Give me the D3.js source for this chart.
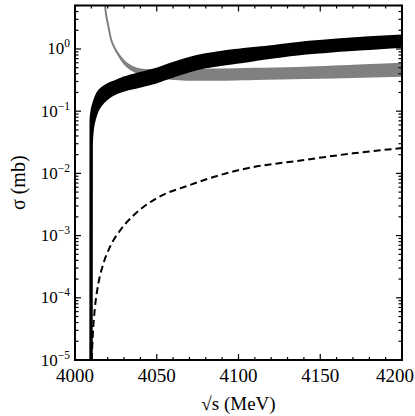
<!DOCTYPE html>
<html>
<head>
<meta charset="utf-8">
<script src="https://cdn.jsdelivr.net/npm/d3@7"></script>
<style>
body { margin: 0; background: #fff; }
text { font-family: "Liberation Serif", "DejaVu Serif", serif; fill: #000; }
</style>
</head>
<body>
<svg id="chart" width="415" height="416"></svg>
<script>

// black band (upper / lower edge), sigma in mb
var blackE     = [4009.8, 4009.9, 4010.5, 4011.5, 4013, 4015, 4017, 4020, 4025, 4030, 4040, 4050, 4060, 4070, 4080, 4090, 4100, 4120, 4140, 4160, 4180, 4200]
var blackUpper = [1e-5, 0.07, 0.10, 0.13, 0.17, 0.21, 0.235, 0.265, 0.30, 0.34, 0.40, 0.47, 0.58, 0.70, 0.80, 0.88, 0.95, 1.08, 1.25, 1.38, 1.50, 1.60]
var blackLower = [1e-5, 0.03, 0.05, 0.07, 0.095, 0.12, 0.14, 0.165, 0.198, 0.22, 0.255, 0.30, 0.37, 0.45, 0.52, 0.57, 0.62, 0.74, 0.86, 0.95, 1.03, 1.11]

// grey band
var greyE     = [4018.3, 4019, 4020.4, 4022, 4023.4, 4026, 4028.6, 4031, 4034.7, 4040, 4045, 4050, 4060, 4070, 4090, 4110, 4140, 4170, 4200]
var greyUpper = [5.2, 3.6, 2.33, 1.45, 1.15, 0.87, 0.70, 0.60, 0.52, 0.47, 0.46, 0.46, 0.46, 0.46, 0.47, 0.48, 0.50, 0.54, 0.58]
var greyLower = [5.2, 3.6, 2.33, 1.45, 1.15, 0.85, 0.66, 0.55, 0.46, 0.40, 0.37, 0.35, 0.33, 0.32, 0.32, 0.33, 0.34, 0.355, 0.37]

// dashed curve
var dashE = [4010.2, 4010.8, 4012.2, 4014.3, 4017.3, 4021.4, 4027.5, 4035.7, 4050, 4070.3, 4079.5, 4100.9, 4140.7, 4170, 4200]
var dashV = [1e-5, 2.3e-5, 7e-5, 1.7e-4, 3.5e-4, 6.6e-4, 1.2e-3, 2.1e-3, 4.0e-3, 6.5e-3, 7.9e-3, 1.14e-2, 1.65e-2, 2.1e-2, 2.55e-2]

var xTicks = [4000, 4050, 4100, 4150, 4200]
var yDecades = [0, -1, -2, -3, -4, -5]

var svg = d3.select("#chart")
var W = 415

//plot box (window.top is reserved, so own names)
var pLeft = 75, pRight = 402, pTop = 5.5, pBottom = 360

var x = d3.scaleLinear().domain([4000, 4200]).range([pLeft, pRight])
var y = d3.scaleLog().domain([1e-5, 5]).range([pBottom, pTop])

svg.append("clipPath").attr("id", "plotClip")
    .append("rect")
    .attr("x", pLeft).attr("y", pTop)
    .attr("width", pRight - pLeft).attr("height", pBottom - pTop)

var plot = svg.append("g").attr("clip-path", "url(#plotClip)")

//build band rows from the arrays
function bandRows(E, lo, hi) {
    return E.map(function(e, i) { return {e: e, lo: lo[i], hi: hi[i]} })
}

var band = d3.area()
    .x(function(d) { return x(d.e) })
    .y0(function(d) { return y(d.lo) })
    .y1(function(d) { return y(d.hi) })
    .curve(d3.curveMonotoneX)

// grey first, black sits on top of it
plot.append("path")
    .datum(bandRows(greyE, greyLower, greyUpper))
    .attr("d", band)
    .attr("fill", "#808080")
    .attr("stroke", "#808080")
    .attr("stroke-width", 2)
    .attr("stroke-linejoin", "round")

var dashLine = d3.line()
    .x(function(d, i) { return x(dashE[i]) })
    .y(function(d) { return y(d) })
    .curve(d3.curveMonotoneX)

plot.append("path")
    .datum(dashV)
    .attr("d", dashLine)
    .attr("fill", "none")
    .attr("stroke", "#000")
    .attr("stroke-width", 2)
    .attr("stroke-dasharray", "7,4")

plot.append("path")
    .datum(bandRows(blackE, blackLower, blackUpper))
    .attr("d", band)
    .attr("fill", "#000")
    .attr("stroke", "#000")
    .attr("stroke-width", 3.4)
    .attr("stroke-linejoin", "round")

// ticks, all pointing inwards on all four sides
var ticksG = svg.append("g").attr("stroke", "#000").attr("stroke-width", 1.2)

var xMinor = d3.range(4000, 4201, 10)
xMinor.forEach(function(v) {
    var len = (v % 50 === 0) ? 6 : 3
    ticksG.append("line").attr("x1", x(v)).attr("x2", x(v)).attr("y1", pBottom).attr("y2", pBottom - len)
    ticksG.append("line").attr("x1", x(v)).attr("x2", x(v)).attr("y1", pTop).attr("y2", pTop + len)
})

y.ticks().forEach(function(v) {
    var isMajor = Math.abs(Math.log10(v) - Math.round(Math.log10(v))) < 1e-9
    var len = isMajor ? 6 : 3.5
    ticksG.append("line").attr("x1", pLeft).attr("x2", pLeft + len).attr("y1", y(v)).attr("y2", y(v))
    ticksG.append("line").attr("x1", pRight).attr("x2", pRight - len).attr("y1", y(v)).attr("y2", y(v))
})

// frame
svg.append("rect")
    .attr("x", pLeft).attr("y", pTop)
    .attr("width", pRight - pLeft).attr("height", pBottom - pTop)
    .attr("fill", "none")
    .attr("stroke", "#000")
    .attr("stroke-width", 2)

// x tick labels, the last one kept inside the picture
svg.selectAll(".xlab")
    .data(xTicks)
    .enter().append("text")
    .attr("class", "xlab")
    .attr("y", 382)
    .attr("text-anchor", "middle")
    .style("font-size", "19px")
    .text(function(d) { return d })
    .attr("x", function(d) {
        var half = this.getComputedTextLength() / 2
        return Math.min(x(d), W - 1 - half)
    })

// y tick labels 10^n
yDecades.forEach(function(p) {
    var t = svg.append("text")
        .attr("x", pLeft - 5)
        .attr("y", y(Math.pow(10, p)) + 5.5)
        .attr("text-anchor", "end")
        .style("font-size", "17px")
    t.append("tspan").text("10")
    t.append("tspan")
        .attr("dy", -7)
        .style("font-size", "11.5px")
        .text(p < 0 ? "\u2212" + (-p) : String(p))
})

svg.append("text")
    .attr("x", (pLeft + pRight) / 2)
    .attr("y", 410)
    .attr("text-anchor", "middle")
    .style("font-size", "19px")
    .text("\u221As (MeV)")

svg.append("text")
    .attr("transform", "translate(25," + ((pTop + pBottom) / 2) + ") rotate(-90)")
    .attr("text-anchor", "middle")
    .style("font-size", "20px")
    .text("\u03C3 (mb)")

</script>
</body>
</html>
